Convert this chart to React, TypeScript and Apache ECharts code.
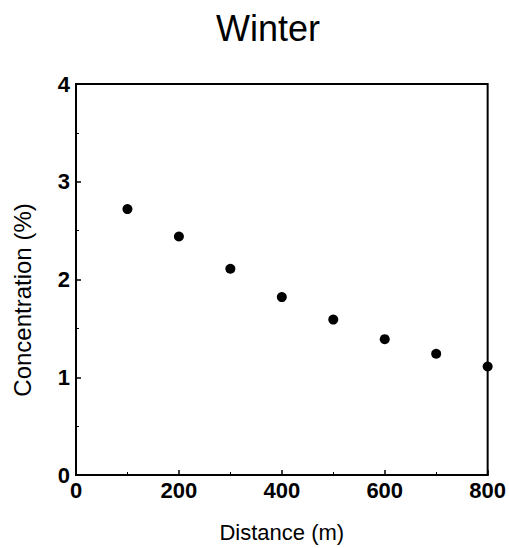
import React, { useEffect, useRef } from "react";
import * as echarts from "echarts";

const distances = [100, 200, 300, 400, 500, 600, 700, 800];
const concentration = [2.72, 2.44, 2.11, 1.82, 1.59, 1.39, 1.24, 1.11];
const titleText = "Winter";
const xName = "Distance (m)";
const yName = "Concentration (%)";

export default function App() {
  const ref = useRef<HTMLDivElement>(null);
  useEffect(() => {
    const chart = echarts.init(ref.current!, null, { renderer: "svg" });
    const font = "Arial, 'Liberation Sans', Helvetica, sans-serif";
    const axisCommon = {
      type: "value",
      axisLine: { show: true, lineStyle: { color: "#000", width: 2 } },
      axisTick: { show: true, inside: true, length: 5, lineStyle: { color: "#000", width: 1.5 } },
      minorTick: { show: true, splitNumber: 2, length: 3, lineStyle: { color: "#000", width: 1 } },
      splitLine: { show: false },
      minorSplitLine: { show: false },
      axisLabel: { fontSize: 22, color: "#000", fontFamily: font, fontWeight: "bold" },
    };
    chart.setOption({
      animation: false,
      backgroundColor: "#fff",
      title: {
        text: titleText,
        left: 211,
        top: 5,
        textStyle: { fontSize: 36, fontWeight: "normal", color: "#000", fontFamily: font },
      },
      grid: { left: 76, top: 84, right: 20, bottom: 67, show: true, borderColor: "#000", borderWidth: 2 },
      xAxis: {
        ...axisCommon,
        min: 0,
        max: 800,
        interval: 200,
        name: xName,
        nameLocation: "middle",
        nameGap: 46,
        nameTextStyle: { fontSize: 22, color: "#000", fontFamily: font },
        axisLabel: { ...axisCommon.axisLabel, margin: 4 },
      },
      yAxis: {
        ...axisCommon,
        min: 0,
        max: 4,
        interval: 1,
        axisLabel: { ...axisCommon.axisLabel, margin: 6 },
      },
      graphic: [
        {
          type: "text",
          x: 22,
          y: 300,
          rotation: Math.PI / 2,
          style: {
            text: yName,
            fontSize: 24,
            fontFamily: font,
            fill: "#000",
            align: "center",
            verticalAlign: "middle",
          },
        },
      ],
      series: [
        {
          type: "scatter",
          data: distances.map((d, i) => [d, concentration[i]]),
          symbol: "circle",
          symbolSize: 10,
          itemStyle: { color: "#000", opacity: 1 },
          clip: false,
        },
      ],
    });
    return () => chart.dispose();
  }, []);
  return (
    <div
      ref={ref}
      style={{ position: "absolute", left: 0, top: 0, width: 509, height: 548 }}
    />
  );
}
